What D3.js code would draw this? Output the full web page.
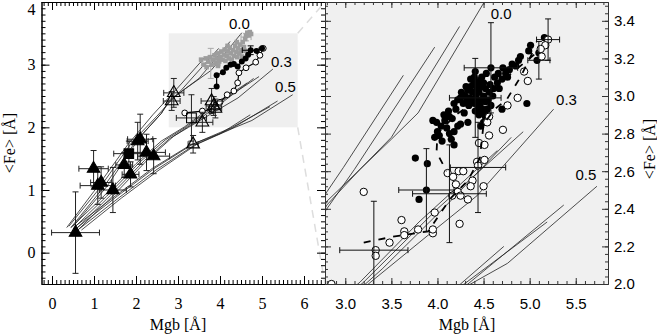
<!DOCTYPE html>
<html>
<head>
<meta charset="utf-8">
<script src="https://cdn.jsdelivr.net/npm/d3@7"></script>
<style>
  body { margin: 0; background: #fff; }
</style>
</head>
<body>
<svg width="657" height="336"></svg>
<script>
var svg = d3.select("svg");

// SSP model grids, one line per age: [Mgb, <Fe>]
var model00 = [
  [[0.35,0.40],[1.0,0.98],[1.8,1.72],[2.4,2.20],[2.8,2.49],[2.98,2.62],[3.63,3.11]],
  [[0.40,0.42],[1.1,1.00],[1.9,1.76],[2.5,2.18],[2.8,2.40],[3.1,2.61],[3.97,3.26]],
  [[0.45,0.40],[1.2,1.02],[2.0,1.78],[2.6,2.22],[2.8,2.42],[3.16,2.61],[3.5,2.78],[4.24,3.37]],
  [[0.50,0.42],[1.3,1.05],[2.1,1.85],[2.6,2.22],[2.8,2.44],[3.5,2.77],[3.79,2.91],[4.52,3.51]]
];
var model03 = [
  [[0.45,0.40],[1.2,0.88],[2.0,1.42],[2.6,1.78],[3.16,2.01],[3.8,2.33],[4.65,2.71]],
  [[0.50,0.38],[1.3,0.90],[2.1,1.45],[2.7,1.80],[3.2,2.01],[4.0,2.40],[4.93,2.81]],
  [[0.55,0.36],[1.4,0.92],[2.2,1.47],[2.8,1.82],[3.25,2.00],[3.9,2.26],[4.43,2.47],[5.26,2.93]],
  [[0.60,0.35],[1.5,0.94],[2.3,1.50],[2.9,1.86],[3.4,2.08],[4.1,2.42],[4.8,2.78]]
];
var model05 = [
  [[0.55,0.42],[1.5,0.90],[2.4,1.35],[3.3,1.72],[4.0,1.90],[4.25,2.00],[4.72,2.20]],
  [[0.60,0.40],[1.55,0.90],[2.45,1.35],[3.35,1.73],[4.29,2.00],[5.19,2.33]],
  [[0.65,0.38],[1.6,0.88],[2.5,1.33],[3.4,1.72],[4.33,2.00],[5.37,2.42]],
  [[0.70,0.36],[1.65,0.87],[2.55,1.32],[3.45,1.73],[4.36,2.00],[4.76,2.11],[5.73,2.52]]
];
var alphaLabels = ["0.0", "0.3", "0.5"];

// left panel samples: [Mgb, <Fe>, err Mgb, err <Fe>]
var triFilled = [
  [0.56,0.32,0.57,0.65],[0.99,1.34,0.35,0.29],[1.09,1.07,0.42,0.30],[1.17,1.12,0.25,0.25],
  [1.45,1.00,0.32,0.36],[1.72,1.40,0.20,0.20],[1.87,1.25,0.20,0.20],[2.04,1.78,0.25,0.30],
  [2.10,1.81,0.30,0.40],[2.25,1.60,0.45,0.29],[2.42,1.54,0.38,0.28]
];
var sqFilled = [[1.83,1.58,0.36,0.20]];
var triOpen = [
  [2.90,2.55,0.24,0.23],[2.85,2.42,0.20,0.15],[3.36,1.73,0.12,0.14],[3.58,2.08,0.25,0.16],
  [3.80,2.42,0.25,0.20],[3.85,2.34,0.18,0.15],[3.89,2.30,0.15,0.15]
];
var sqOpen = [[3.32,2.15,0.36,0.37]];
var grayPts = [
  [3.55,3.08],[3.62,3.00],[3.68,2.96],[3.72,3.05],[3.76,3.12],[3.80,3.00],[3.84,3.08],[3.87,3.15],
  [3.90,3.03],[3.93,3.10],[3.96,3.18],[3.98,3.05],[4.01,3.12],[4.03,3.21],[4.06,3.08],[4.09,3.16],
  [4.11,3.24],[4.13,3.06],[4.16,3.14],[4.19,3.21],[4.21,3.10],[4.23,3.27],[4.26,3.18],[4.28,3.08],
  [4.31,3.23],[4.33,3.14],[4.36,3.30],[4.39,3.20],[4.41,3.12],[4.43,3.26],[4.46,3.18],[4.48,3.32],
  [4.51,3.23],[4.54,3.36],[4.57,3.28],[4.60,3.41],[4.62,3.46],[4.65,3.51],[4.68,3.47],[4.71,3.52],
  [4.74,3.49],[4.60,3.22],[4.52,3.13],[3.66,3.10],[3.95,2.98],[4.18,3.30],[4.40,3.36]
];
var grayErr = [[3.78,3.02,0.22,0.24],[4.62,3.44,0.12,0.06]];
var trackFilled = [
  [3.92,2.65],[3.92,2.83],[4.07,2.88],[4.15,2.95],[4.25,3.00],[4.33,3.01],[4.42,2.97],
  [4.52,3.05],[4.61,3.10],[4.67,3.16],[4.73,3.23],[4.87,3.22],[5.00,3.26]
];
var trackOpen = [
  [3.16,2.23],[3.58,2.26],[3.81,2.29],[4.00,2.40],[4.17,2.52],[4.33,2.58],[4.42,2.71],
  [4.45,2.87],[4.62,2.95],[4.85,3.04],[4.95,3.15],[5.03,3.26]
];
var trackErr = [[4.73,3.23,0.20,0.07]];

// right panel samples
var dotsFilled = [
  [5.16,3.31],[5.10,3.23],[5.08,3.19],[5.01,3.27],[4.99,3.24],[4.90,3.21],[4.88,3.19],[4.85,3.16],
  [4.81,3.17],[4.78,3.14],[4.74,3.12],[4.70,3.09],[4.67,3.04],[4.65,3.07],[4.61,3.04],[4.58,3.15],
  [4.40,3.10],[4.42,3.07],[4.36,3.05],[4.38,3.02],[4.33,3.03],[4.30,3.00],[4.25,2.99],[4.22,2.98],
  [4.18,2.96],[4.20,2.93],[4.29,2.91],[4.34,2.95],[4.51,2.91],[4.54,2.93],[4.52,2.89],[4.70,2.93],
  [4.97,2.96],[4.13,2.89],[4.08,2.87],[4.04,2.84],[3.99,2.86],[3.95,2.87],[4.00,2.81],[4.02,2.79],
  [4.13,2.80],[4.15,2.77],[4.18,2.81],[4.22,2.84],[4.25,2.85],[4.33,2.86],[3.76,2.67],[3.89,2.64],
  [3.88,2.50],[3.80,2.45],[4.42,3.00],[4.45,3.02],[4.48,2.98],[4.46,2.95],[4.50,3.00],[4.52,3.04],
  [4.44,2.97],[4.40,2.96],[4.47,3.05],[4.43,3.04],[4.49,2.93],[4.41,2.92],[4.45,2.90],[4.55,2.98],
  [4.37,2.98],[4.39,3.06],[4.35,2.99],[4.46,3.08],[4.50,3.07],[4.56,3.02],[4.28,2.96],[4.32,2.98],
  [4.26,3.02],[4.60,3.00],[4.57,3.06],[4.52,2.97],[4.44,2.93],[4.48,3.10],[4.53,3.12],[4.62,3.10],
  [4.66,3.12],[4.71,3.15],[4.76,3.10],[4.58,2.95],[4.50,2.86],[4.47,2.84],[3.97,2.78],[4.05,2.76],
  [4.10,2.83],[4.07,2.90],[4.12,2.92],[4.16,2.88],[4.18,2.74],[4.41,3.13],[4.36,3.09],[4.31,3.05]
];
var dotsOpen = [
  [5.20,3.30],[5.17,3.27],[5.12,3.25],[5.13,3.21],[4.94,3.13],[4.98,3.08],[4.87,2.99],[4.76,2.95],
  [4.71,2.82],[4.56,2.89],[4.54,2.86],[4.56,2.79],[4.45,2.75],[4.51,2.74],[4.43,2.65],[4.51,2.66],
  [4.44,2.63],[4.11,2.59],[4.17,2.57],[4.23,2.60],[4.28,2.60],[4.20,2.53],[4.38,2.55],[4.36,2.52],
  [4.50,2.52],[4.22,2.49],[4.16,2.47],[4.25,2.47],[4.33,2.45],[4.24,2.32],[3.97,2.38],[3.95,2.27],
  [3.95,2.29],[3.79,2.29],[3.64,2.28],[3.64,2.26],[3.61,2.34],[3.48,2.22],[3.33,2.18],[3.33,2.15],
  [3.20,2.49],[2.85,2.00]
];
var errRight = [
  [4.58,3.15,0.29,0.24],[4.41,2.99,0.28,0.21],[5.20,3.30,0.125,0.11],[5.10,3.19,0.12,0.10],
  [3.88,2.50,0.30,0.22],[4.13,2.48,0.40,0.26],[4.44,2.62,0.30,0.24],[3.31,2.18,0.37,0.26]
];
var dashOpen = [
  [3.20,2.22],[3.50,2.25],[3.90,2.28],[4.05,2.39],[4.15,2.46],[4.33,2.55],[4.46,2.67],
  [4.50,2.85],[4.62,2.93],[4.75,2.98],[4.90,3.10],[5.05,3.25]
];
var dashFilled = [
  [5.05,3.22],[4.80,3.12],[4.50,3.00],[4.20,2.90],[4.00,2.80],[3.99,2.70],[4.10,2.60]
];

var xTicksL = [0, 1, 2, 3, 4, 5, 6], yTicksL = [0, 1, 2, 3, 4];
var xTicksR = [3.0, 3.5, 4.0, 4.5, 5.0, 5.5], yTicksR = [2.0, 2.2, 2.4, 2.6, 2.8, 3.0, 3.2, 3.4];
var zoomX = [2.78, 5.85], zoomY = [2.0, 3.5];

var xL = d3.scaleLinear().domain([-0.25, 6.5]).range([41.5, 325]);
var yL = d3.scaleLinear().domain([-0.5, 4]).range([284, 2]);
var xR = d3.scaleLinear().domain(zoomX).range([325, 608]);
var yR = d3.scaleLinear().domain(zoomY).range([284, 2]);

var serif = "'Liberation Serif', 'DejaVu Serif', serif",
    sans = "'Liberation Sans', Arial, sans-serif";

function minorTicks(dom, step) {
  var a = Math.ceil(dom[0] / step - 1e-6), b = Math.floor(dom[1] / step + 1e-6);
  return d3.range(a, b + 1).map(function(i) { return +(i * step).toFixed(4); });
}

function side(g, make, scale, tr, major, minor, big, small, fmt) {
  g.append("g").attr("transform", tr)
      .call(make(scale).tickValues(minor).tickSize(-small).tickSizeOuter(0).tickFormat(""));
  return g.append("g").attr("transform", tr)
      .call(make(scale).tickValues(major).tickSize(-big).tickSizeOuter(0).tickPadding(fmt ? 14 : 0)
        .tickFormat(fmt || ""));
}

function clip(id, x, y) {
  svg.append("clipPath").attr("id", id).append("rect")
      .attr("x", x.range()[0]).attr("y", y.range()[1])
      .attr("width", x.range()[1] - x.range()[0])
      .attr("height", y.range()[0] - y.range()[1]);
}
clip("clipL", xL, yL);
clip("clipR", xR, yR);

function models(g, x, y) {
  var line = d3.line().x(function(d) { return x(d[0]); }).y(function(d) { return y(d[1]); });
  [model00, model03, model05].forEach(function(set) {
    g.selectAll(null).data(set).enter().append("path")
        .attr("d", line)
        .attr("fill", "none")
        .attr("stroke", "#222")
        .attr("stroke-width", 0.8);
  });
}

function errbars(g, data, x, y, color, cap) {
  var e = g.append("g").attr("stroke", color).attr("stroke-width", 1).attr("fill", "none");
  data.forEach(function(d) {
    var cx = x(d[0]), cy = y(d[1]),
        xa = x(d[0] - d[2]), xb = x(d[0] + d[2]),
        ya = y(d[1] - d[3]), yb = y(d[1] + d[3]);
    e.append("path").attr("d",
      "M" + xa + "," + cy + "H" + xb +
      "M" + xa + "," + (cy - cap) + "V" + (cy + cap) +
      "M" + xb + "," + (cy - cap) + "V" + (cy + cap) +
      "M" + cx + "," + ya + "V" + yb +
      "M" + (cx - cap) + "," + ya + "H" + (cx + cap) +
      "M" + (cx - cap) + "," + yb + "H" + (cx + cap));
  });
}

function symbols(g, data, x, y, type, size, fill, stroke) {
  g.selectAll(null).data(data).enter().append("path")
      .attr("transform", function(d) { return "translate(" + x(d[0]) + "," + y(d[1]) + ")"; })
      .attr("d", d3.symbol().type(type).size(size))
      .attr("fill", fill)
      .attr("stroke", stroke)
      .attr("stroke-width", 1.1);
}

// ---------- left panel ----------
var gl = svg.append("g").attr("clip-path", "url(#clipL)");

gl.append("rect")
    .attr("x", xL(zoomX[0])).attr("y", yL(zoomY[1]))
    .attr("width", xL(zoomX[1]) - xL(zoomX[0]))
    .attr("height", yL(zoomY[0]) - yL(zoomY[1]))
    .attr("fill", "#efefef");

models(gl, xL, yL);

errbars(gl, grayErr, xL, yL, "#aaa", 3);
gl.selectAll(null).data(grayPts).enter().append("rect")
    .attr("x", function(d) { return xL(d[0]) - 2.3; })
    .attr("y", function(d) { return yL(d[1]) - 2.3; })
    .attr("width", 4.6).attr("height", 4.6)
    .attr("fill", "#9d9d9d");

var trk = d3.line().x(function(d) { return xL(d[0]); }).y(function(d) { return yL(d[1]); });
gl.append("path").datum(trackOpen).attr("d", trk)
    .attr("fill", "none").attr("stroke", "#000").attr("stroke-width", 1.2);
gl.append("path").datum(trackFilled).attr("d", trk)
    .attr("fill", "none").attr("stroke", "#000").attr("stroke-width", 1.2);
errbars(gl, trackErr, xL, yL, "#000", 3);
gl.selectAll(null).data(trackOpen).enter().append("circle")
    .attr("cx", function(d) { return xL(d[0]); }).attr("cy", function(d) { return yL(d[1]); })
    .attr("r", 2.9).attr("fill", "#fff").attr("stroke", "#000").attr("stroke-width", 1);
gl.selectAll(null).data(trackFilled).enter().append("circle")
    .attr("cx", function(d) { return xL(d[0]); }).attr("cy", function(d) { return yL(d[1]); })
    .attr("r", 3).attr("fill", "#000");

errbars(gl, triFilled.concat(sqFilled, triOpen, sqOpen), xL, yL, "#222", 3);
symbols(gl, triFilled, xL, yL, d3.symbolTriangle, 68, "#000", "#000");
symbols(gl, sqFilled, xL, yL, d3.symbolSquare, 90, "#000", "#000");
symbols(gl, triOpen, xL, yL, d3.symbolTriangle, 70, "none", "#000");
symbols(gl, sqOpen, xL, yL, d3.symbolSquare, 95, "none", "#000");

// zoom connectors
svg.append("g").attr("stroke", "#ddd").attr("stroke-width", 1.5).attr("stroke-dasharray", "8,6")
  .selectAll("line").data([[zoomY[1], 1], [zoomY[0], 0]]).enter().append("line")
    .attr("x1", xL(zoomX[1])).attr("y1", function(d) { return yL(d[0]); })
    .attr("x2", xR.range()[0]).attr("y2", function(d) { return yR.range()[d[1]]; });

// ---------- right panel ----------
svg.append("rect")
    .attr("x", xR.range()[0]).attr("y", yR.range()[1])
    .attr("width", xR.range()[1] - xR.range()[0])
    .attr("height", yR.range()[0] - yR.range()[1])
    .attr("fill", "#f0f0f0");

var gr = svg.append("g").attr("clip-path", "url(#clipR)");
models(gr, xR, yR);

gr.selectAll(null).data(dotsFilled).enter().append("circle")
    .attr("cx", function(d) { return xR(d[0]); }).attr("cy", function(d) { return yR(d[1]); })
    .attr("r", 3.6).attr("fill", "#000");
gr.selectAll(null).data(dotsOpen).enter().append("circle")
    .attr("cx", function(d) { return xR(d[0]); }).attr("cy", function(d) { return yR(d[1]); })
    .attr("r", 3.7).attr("fill", "#fff").attr("stroke", "#000").attr("stroke-width", 1);

var dl = d3.line().x(function(d) { return xR(d[0]); }).y(function(d) { return yR(d[1]); });
gr.selectAll(null).data([dashOpen, dashFilled]).enter().append("path")
    .attr("d", dl).attr("fill", "none").attr("stroke", "#000")
    .attr("stroke-width", 1.8).attr("stroke-dasharray", "7,8");

errbars(gr, errRight, xR, yR, "#111", 3);

// alpha/Fe tags
var tagL = [[4.46,3.66],[5.46,3.05],[5.56,2.65]], tagR = [[4.69,3.44],[5.40,2.98],[5.61,2.58]];
[[tagL, xL, yL], [tagR, xR, yR]].forEach(function(p) {
  svg.append("g").selectAll("text").data(alphaLabels).enter().append("text")
      .attr("x", function(d, i) { return p[1](p[0][i][0]); })
      .attr("y", function(d, i) { return p[2](p[0][i][1]); })
      .attr("dy", "0.35em")
      .attr("text-anchor", "middle")
      .attr("font-family", sans).attr("font-size", 15)
      .text(function(d) { return d; });
});

// ---------- frames ----------
var fl = svg.append("g").attr("color", "#000");
side(fl, d3.axisBottom, xL, "translate(0,284)", xTicksL, minorTicks(xL.domain(), 0.1), 8, 4, d3.format("d"));
side(fl, d3.axisTop, xL, "translate(0,2)", xTicksL, minorTicks(xL.domain(), 0.1), 8, 4);
var axL = side(fl, d3.axisLeft, yL, "translate(41.5,0)", yTicksL, minorTicks(yL.domain(), 0.1), 8, 4, d3.format("d"));
side(fl, d3.axisRight, yL, "translate(325,0)", yTicksL, minorTicks(yL.domain(), 0.1), 8, 4);
axL.selectAll("text").attr("x", -6).filter(function(d) { return d === 4; }).attr("dy", "0.75em");
fl.selectAll("text").attr("font-family", serif).attr("font-size", 16).attr("fill", "#000");

var fr = svg.append("g").attr("color", "#333");
side(fr, d3.axisBottom, xR, "translate(0,284)", xTicksR, minorTicks(xR.domain(), 0.1), 6, 3, d3.format(".1f"));
side(fr, d3.axisTop, xR, "translate(0,2)", xTicksR, minorTicks(xR.domain(), 0.1), 6, 3);
side(fr, d3.axisLeft, yR, "translate(325,0)", yTicksR, minorTicks(yR.domain(), 0.04), 6, 3);
var axR = side(fr, d3.axisRight, yR, "translate(608,0)", yTicksR, minorTicks(yR.domain(), 0.04), 6, 3, d3.format(".1f"));
axR.selectAll("text").attr("x", 6);
fr.selectAll("text").attr("font-family", sans).attr("font-size", 15).attr("fill", "#000");

// axis titles
var titles = svg.append("g").attr("font-family", serif).attr("font-size", 16).attr("text-anchor", "middle");
titles.append("text").attr("x", 178).attr("y", 330).text("Mgb  [Å]");
titles.append("text").attr("x", 467).attr("y", 330).text("Mgb  [Å]");
titles.append("text").attr("transform", "translate(15,143) rotate(-90)").text("<Fe> [Å]");
titles.append("text").attr("transform", "translate(655,149) rotate(-90)").text("<Fe> [Å]");
</script>
</body>
</html>
